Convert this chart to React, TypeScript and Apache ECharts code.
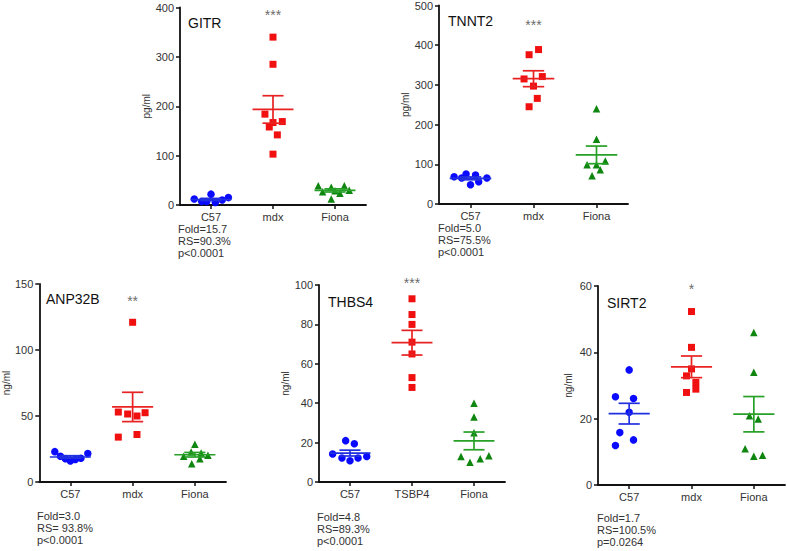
import React, { useEffect, useRef } from "react";
import * as echarts from "echarts";

// ---- categories ----
const categoriesA = ["C57", "mdx", "Fiona"];
const categoriesB = ["C57", "TSBP4", "Fiona"];

// ---- GITR (pg/ml) ----
const gitrC57 = [12, 7, 7, 22, 5, 10, 15];
const gitrC57Jitter = [-0.27, -0.15, -0.07, 0, 0.07, 0.18, 0.28];
const gitrMdx = [340, 285, 184, 167, 169, 158, 142, 103];
const gitrMdxJitter = [0, 0, -0.13, 0, 0.15, -0.06, 0.07, 0];
const gitrFiona = [39, 27, 36, 12, 29, 24, 39, 30];
const gitrFionaJitter = [-0.27, -0.2, -0.06, -0.06, 0, 0.08, 0.15, 0.23];

// ---- TNNT2 (pg/ml) ----
const tnntC57 = [68.7, 65.3, 75.4, 48.6, 72.9, 56, 65.3];
const tnntC57Jitter = [-0.26, -0.14, -0.07, 0, 0.08, 0.13, 0.26];
const tnntMdx = [376, 389, 315, 321, 297, 266, 245];
const tnntMdxJitter = [-0.07, 0.08, -0.15, 0.14, 0, 0.06, -0.07];
const tnntFiona = [240, 163, 108, 99, 99, 86, 71];
const tnntFionaJitter = [0, 0, 0.14, -0.15, 0, 0.06, -0.07];

// ---- ANP32B (ng/ml) ----
const anpC57 = [23, 19.5, 17.7, 16, 17, 18, 21.5];
const anpC57Jitter = [-0.25, -0.16, -0.08, 0, 0.08, 0.17, 0.28];
const anpMdx = [121, 53, 51.5, 50, 52.5, 34, 36];
const anpMdxJitter = [0, -0.23, -0.08, 0.07, 0.2, -0.23, 0.07];
const anpFiona = [28.6, 22.7, 22, 19.5, 20.2, 17.7, 13.9];
const anpFionaJitter = [0, -0.06, 0.1, -0.18, 0.21, 0.08, -0.05];

// ---- THBS4 (ng/ml) ----
const thbsC57 = [14.2, 12.2, 21, 10.8, 19.4, 12.2, 13];
const thbsC57Jitter = [-0.28, -0.13, -0.07, 0, 0.07, 0.13, 0.27];
const thbsTsbp4 = [93, 85, 80, 71, 65, 53, 48];
const thbsTsbp4Jitter = [0, 0, 0, 0, 0, 0, 0];
const thbsFiona = [40, 33, 25, 13, 10, 11.8, 13.3];
const thbsFionaJitter = [0, 0, 0, -0.21, -0.065, 0.1, 0.24];

// ---- SIRT2 (ng/ml) ----
const sirtC57 = [34.7, 26.6, 26.1, 21.9, 15.8, 13.6, 11.9];
const sirtC57Jitter = [0, -0.22, 0.07, 0, -0.15, 0.07, -0.22];
const sirtMdx = [52.3, 41.5, 35, 32.9, 30.9, 28.9, 27.9];
const sirtMdxJitter = [0, 0, 0, -0.08, 0.07, 0.07, -0.08];
const sirtFiona = [46, 34, 20.9, 19.9, 10.9, 8.7, 9];
const sirtFionaJitter = [0, 0, -0.07, 0.07, -0.14, 0, 0.14];

// ---- panel texts / scales ----
const panelTitles = ["GITR", "TNNT2", "ANP32B", "THBS4", "SIRT2"];
const panelUnits = ["pg/ml", "pg/ml", "ng/ml", "ng/ml", "ng/ml"];
const panelMax = [400, 500, 150, 100, 60];
const panelInterval = [100, 100, 50, 20, 20];
const panelStars = ["***", "***", "**", "***", "*"];
const panelStarValue = [384, 450, 137, 101, 59];
const panelNotes = [
  ["Fold=15.7", "RS=90.3%", "p<0.0001"],
  ["Fold=5.0", "RS=75.5%", "p<0.0001"],
  ["Fold=3.0", "RS= 93.8%", "p<0.0001"],
  ["Fold=4.8", "RS=89.3%", "p<0.0001"],
  ["Fold=1.7", "RS=100.5%", "p=0.0264"],
];

const panelCategories = [categoriesA, categoriesA, categoriesA, categoriesB, categoriesA];
const panelGroups = [
  [gitrC57, gitrMdx, gitrFiona],
  [tnntC57, tnntMdx, tnntFiona],
  [anpC57, anpMdx, anpFiona],
  [thbsC57, thbsTsbp4, thbsFiona],
  [sirtC57, sirtMdx, sirtFiona],
];
const panelJitter = [
  [gitrC57Jitter, gitrMdxJitter, gitrFionaJitter],
  [tnntC57Jitter, tnntMdxJitter, tnntFionaJitter],
  [anpC57Jitter, anpMdxJitter, anpFionaJitter],
  [thbsC57Jitter, thbsTsbp4Jitter, thbsFionaJitter],
  [sirtC57Jitter, sirtMdxJitter, sirtFionaJitter],
];

// ---- layout (pixels) ----
const layouts = [
  { left: 180, top: 7.5, width: 186, height: 197.5, nameGap: 19, titleX: 188, titleY: 23, noteX: 178, noteY: 223 },
  { left: 439, top: 5, width: 189, height: 199, nameGap: 19, titleX: 448, titleY: 21, noteX: 438, noteY: 222 },
  { left: 36, top: 284, width: 190, height: 198, nameGap: 18, titleX: 46, titleY: 299, noteX: 37, noteY: 510 },
  { left: 319, top: 285, width: 186, height: 197, nameGap: 16, titleX: 328, titleY: 302, noteX: 317, noteY: 511 },
  { left: 598, top: 286, width: 187, height: 199, nameGap: 25, titleX: 607, titleY: 303, noteX: 597, noteY: 512 },
];

const FONT = "'Liberation Sans', Arial, Helvetica, sans-serif";
const pointColors = ["#0a0aff", "#f01010", "#0f860f"];
const lineColors = ["#2030e0", "#e82222", "#27a027"];
const symbols = ["circle", "rect", "triangle"];
const symbolSizes = [7.5, 7, 7.5];

function meanSem(v: number[]): [number, number] {
  const n = v.length;
  const m = v.reduce((a, b) => a + b, 0) / n;
  const sd = Math.sqrt(v.reduce((a, b) => a + (b - m) * (b - m), 0) / (n - 1));
  return [m, sd / Math.sqrt(n)];
}

function buildOption() {
  const grid: any[] = [];
  const xAxis: any[] = [];
  const yAxis: any[] = [];
  const series: any[] = [];
  const graphic: any[] = [];

  layouts.forEach((L, i) => {
    grid.push({ left: L.left, top: L.top, width: L.width, height: L.height, containLabel: false });
    xAxis.push({
      type: "category",
      gridIndex: i,
      data: panelCategories[i],
      boundaryGap: true,
      axisLine: { show: true, onZero: false, lineStyle: { color: "#111", width: 1.8 } },
      axisTick: { show: true, alignWithLabel: true, length: 4, lineStyle: { color: "#111", width: 1.5 } },
      axisLabel: { color: "#333", fontSize: 11, margin: 6, fontFamily: FONT },
      splitLine: { show: false },
    });
    xAxis.push({ type: "value", gridIndex: i, min: -0.5, max: 2.5, show: false, axisLine: { onZero: false } });
    yAxis.push({
      type: "value",
      gridIndex: i,
      min: 0,
      max: panelMax[i],
      interval: panelInterval[i],
      axisLine: { show: true, onZero: false, lineStyle: { color: "#111", width: 1.8 } },
      axisTick: { show: true, length: 4, lineStyle: { color: "#111", width: 1.5 } },
      axisLabel: { color: "#333", fontSize: 11, margin: 6, fontFamily: FONT },
      splitLine: { show: false },
      name: panelUnits[i],
      nameLocation: "middle",
      nameGap: L.nameGap,
      nameTextStyle: { color: "#333", fontSize: 10, fontFamily: FONT },
    });

    const xi = 2 * i + 1;
    panelGroups[i].forEach((vals, g) => {
      series.push({
        type: "scatter",
        xAxisIndex: xi,
        yAxisIndex: i,
        symbol: symbols[g],
        symbolSize: symbolSizes[g],
        itemStyle: { color: pointColors[g], opacity: 1 },
        data: vals.map((v, k) => [g + panelJitter[i][g][k], v]),
        z: 2,
        silent: true,
      });
    });

    series.push({
      type: "custom",
      xAxisIndex: xi,
      yAxisIndex: i,
      z: 3,
      silent: true,
      data: panelGroups[i].map((vals, g) => {
        const [m, s] = meanSem(vals);
        return [g, m, s];
      }),
      renderItem: (params: any, api: any) => {
        const g = api.value(0);
        const m = api.value(1);
        const s = api.value(2);
        const c = api.coord([g, m]);
        const t = api.coord([g, m + s]);
        const b = api.coord([g, m - s]);
        const band = api.size([1, 0])[0];
        const style = { stroke: lineColors[g], lineWidth: 1.7 };
        return {
          type: "group",
          children: [
            { type: "line", shape: { x1: c[0] - band * 0.33, y1: c[1], x2: c[0] + band * 0.33, y2: c[1] }, style },
            { type: "line", shape: { x1: c[0], y1: t[1], x2: c[0], y2: b[1] }, style },
            { type: "line", shape: { x1: c[0] - band * 0.17, y1: t[1], x2: c[0] + band * 0.17, y2: t[1] }, style },
            { type: "line", shape: { x1: c[0] - band * 0.17, y1: b[1], x2: c[0] + band * 0.17, y2: b[1] }, style },
          ],
        };
      },
    });

    series.push({
      type: "scatter",
      xAxisIndex: xi,
      yAxisIndex: i,
      symbolSize: 1,
      clip: false,
      silent: true,
      itemStyle: { color: "rgba(0,0,0,0)" },
      label: {
        show: true,
        position: "inside",
        formatter: panelStars[i],
        fontSize: 14,
        color: "#444",
        fontFamily: FONT,
      },
      data: [[1, panelStarValue[i]]],
    });

    graphic.push({
      type: "text",
      x: L.titleX,
      y: L.titleY,
      style: { text: panelTitles[i], font: `14px ${FONT}`, fill: "#111", verticalAlign: "middle", align: "left" },
    });
    graphic.push({
      type: "text",
      x: L.noteX,
      y: L.noteY,
      style: {
        text: panelNotes[i].join("\n"),
        font: `11px ${FONT}`,
        lineHeight: 12,
        fill: "#333",
        verticalAlign: "top",
        align: "left",
      },
    });
  });

  return {
    animation: false,
    backgroundColor: "#ffffff",
    textStyle: { fontFamily: FONT },
    grid,
    xAxis,
    yAxis,
    series,
    graphic,
  };
}

export default function App() {
  const ref = useRef<HTMLDivElement>(null);
  useEffect(() => {
    if (!ref.current) return;
    const chart = echarts.init(ref.current, undefined, { renderer: "svg" });
    chart.setOption(buildOption() as any);
    return () => chart.dispose();
  }, []);
  return (
    <div
      ref={ref}
      style={{ position: "fixed", left: 0, top: 0, width: 787, height: 551, background: "#fff" }}
    />
  );
}
